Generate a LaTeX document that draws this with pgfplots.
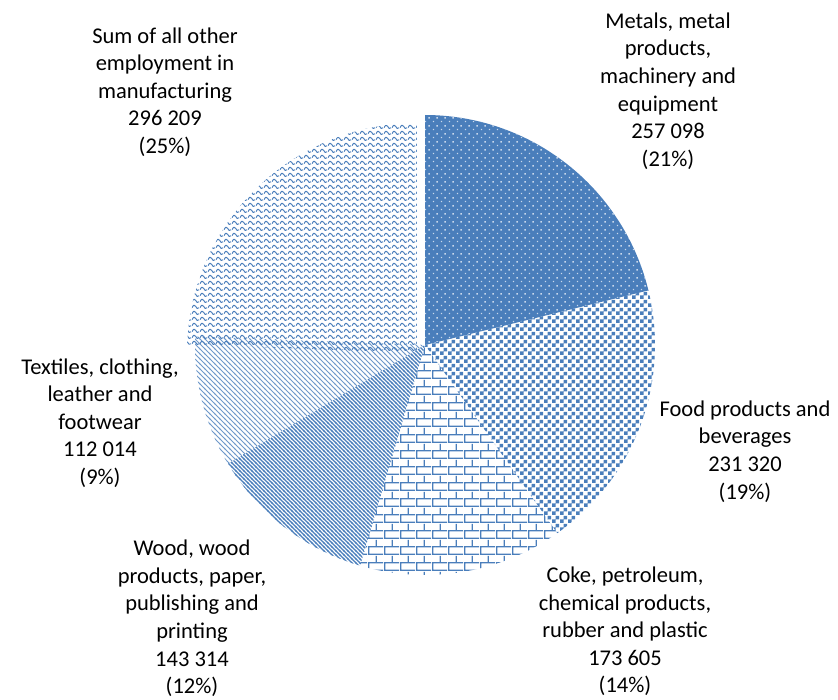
\documentclass[border=0pt]{standalone}
\usepackage{fontspec}
\setmainfont{Carlito}
\usepackage{pgfplots}
\pgfplotsset{compat=1.18}
\usetikzlibrary{patterns,patterns.meta}
\definecolor{mblue}{RGB}{74,126,187}

% --- patterns (tile sizes in pt; 1pt ~ 1px in the output) ---
\pgfdeclarepattern{name=pdots,type=uncolored,
  bottom left={\pgfpoint{0pt}{0pt}},top right={\pgfpoint{8pt}{8pt}},
  tile size={\pgfpoint{8pt}{8pt}},
  code={\pgfpathrectangle{\pgfpoint{1pt}{1pt}}{\pgfpoint{1.5pt}{1.5pt}}
        \pgfpathrectangle{\pgfpoint{5pt}{5pt}}{\pgfpoint{1.5pt}{1.5pt}}\pgfusepath{fill}}}
\pgfdeclarepattern{name=pcheck,type=uncolored,
  bottom left={\pgfpoint{0pt}{0pt}},top right={\pgfpoint{8pt}{8pt}},
  tile size={\pgfpoint{8pt}{8pt}},
  code={\pgfpathrectangle{\pgfpoint{0pt}{0pt}}{\pgfpoint{4pt}{4pt}}
        \pgfpathrectangle{\pgfpoint{4pt}{4pt}}{\pgfpoint{4pt}{4pt}}\pgfusepath{fill}}}
\pgfdeclarepattern{name=pbrick,type=uncolored,
  bottom left={\pgfpoint{0pt}{0pt}},top right={\pgfpoint{16pt}{16pt}},
  tile size={\pgfpoint{16pt}{16pt}},
  code={\pgfsetlinewidth{1.4pt}
        \pgfpathmoveto{\pgfpoint{0pt}{0.7pt}}\pgfpathlineto{\pgfpoint{16pt}{0.7pt}}
        \pgfpathmoveto{\pgfpoint{0pt}{8.7pt}}\pgfpathlineto{\pgfpoint{16pt}{8.7pt}}
        \pgfpathmoveto{\pgfpoint{0.7pt}{0pt}}\pgfpathlineto{\pgfpoint{0.7pt}{8pt}}
        \pgfpathmoveto{\pgfpoint{8.7pt}{8pt}}\pgfpathlineto{\pgfpoint{8.7pt}{16pt}}
        \pgfusepath{stroke}}}
\pgfdeclarepattern{name=pdiagwide,type=uncolored,
  bottom left={\pgfpoint{-1pt}{-1pt}},top right={\pgfpoint{5pt}{5pt}},
  tile size={\pgfpoint{4pt}{4pt}},
  code={\pgfsetlinewidth{1.25pt}
        \pgfpathmoveto{\pgfpoint{-1pt}{5pt}}\pgfpathlineto{\pgfpoint{5pt}{-1pt}}
        \pgfusepath{stroke}}}
\pgfdeclarepattern{name=pdiaglight,type=uncolored,
  bottom left={\pgfpoint{-1pt}{-1pt}},top right={\pgfpoint{6pt}{6pt}},
  tile size={\pgfpoint{5pt}{5pt}},
  code={\pgfsetlinewidth{0.9pt}
        \pgfpathmoveto{\pgfpoint{-1pt}{6pt}}\pgfpathlineto{\pgfpoint{6pt}{-1pt}}
        \pgfusepath{stroke}}}
\pgfdeclarepattern{name=pwave,type=uncolored,
  bottom left={\pgfpoint{0pt}{0pt}},top right={\pgfpoint{8pt}{6pt}},
  tile size={\pgfpoint{8pt}{6pt}},
  code={\pgfsetlinewidth{1.1pt}
        \pgfpathmoveto{\pgfpoint{0pt}{1.5pt}}
        \pgfpathcurveto{\pgfpoint{1.5pt}{5pt}}{\pgfpoint{3pt}{5pt}}{\pgfpoint{4pt}{3.2pt}}
        \pgfpathcurveto{\pgfpoint{5pt}{1.5pt}}{\pgfpoint{6.5pt}{-1.5pt}}{\pgfpoint{8pt}{1.5pt}}
        \pgfusepath{stroke}}}

% --- data ---
\def\vA{257098}% Metals, metal products, machinery and equipment
\def\vB{231320}% Food products and beverages
\def\vC{173605}% Coke, petroleum, chemical products, rubber and plastic
\def\vD{143314}% Wood, wood products, paper, publishing and printing
\def\vE{112014}% Textiles, clothing, leather and footwear
\def\vF{296209}% Sum of all other employment in manufacturing
\edef\total{\fpeval{\vA+\vB+\vC+\vD+\vE+\vF}}
\edef\aA{90}
\edef\aB{\fpeval{round(\aA-360*\vA/\total,4)}}
\edef\aC{\fpeval{round(\aB-360*\vB/\total,4)}}
\edef\aD{\fpeval{round(\aC-360*\vC/\total,4)}}
\edef\aE{\fpeval{round(\aD-360*\vD/\total,4)}}
\edef\aF{\fpeval{round(\aE-360*\vE/\total,4)}}
\edef\aG{\fpeval{round(\aF-360*\vF/\total,4)}}

\begin{document}
\begin{tikzpicture}[x=1pt,y=1pt]
\useasboundingbox (0,0) rectangle (838,699);
\begin{axis}[at={(425pt,354pt)},anchor=center,
  scale only axis,width=460pt,height=460pt,
  xmin=-1,xmax=1,ymin=-1,ymax=1,hide axis,clip=false,
  samples=90,variable=\t]
\addplot[draw=none,fill=mblue,postaction={pattern=pdots,pattern color=white!70!mblue},domain=\aB:\aA]
  ({cos(\t)},{sin(\t)}) -- (axis cs:0,0) -- cycle;
\addplot[draw=none,pattern=pcheck,pattern color=mblue,domain=\aC:\aB]
  ({cos(\t)},{sin(\t)}) -- (axis cs:0,0) -- cycle;
\addplot[draw=none,pattern=pbrick,pattern color=mblue,domain=\aD:\aC]
  ({cos(\t)},{sin(\t)}) -- (axis cs:0,0) -- cycle;
\addplot[draw=none,pattern=pdiagwide,pattern color=mblue,domain=\aE:\aD]
  ({cos(\t)},{sin(\t)}) -- (axis cs:0,0) -- cycle;
\addplot[draw=none,pattern=pdiaglight,pattern color=mblue!80,domain=\aF:\aE]
  ({cos(\t)},{sin(\t)}) -- (axis cs:0,0) -- cycle;
\addplot[draw=none,pattern=pwave,pattern color=mblue,domain=\aG:\aF]
  ({cos(\t)-0.035},{sin(\t)-0.035}) -- (axis cs:-0.035,-0.035) -- cycle;
\end{axis}
\begin{scope}[every node/.style={align=center,inner sep=0pt,font=\fontsize{22.5}{27.6}\selectfont}]
\node at (668,608) {Metals, metal\\products,\\machinery and\\equipment\\257 098\\(21\%)};
\node at (745,247.5) {Food products and\\beverages\\231 320\\(19\%)};
\node at (625,67.5) {Coke, petroleum,\\chemical products,\\rubber and plastic\\173 605\\(14\%)};
\node at (192,80.5) {Wood, wood\\products, paper,\\publishing and\\printing\\143 314\\(12\%)};
\node at (100,276) {Textiles, clothing,\\leather and\\footwear\\112 014\\(9\%)};
\node at (165,607) {Sum of all other\\employment in\\manufacturing\\296 209\\(25\%)};
\end{scope}
\end{tikzpicture}
\end{document}
